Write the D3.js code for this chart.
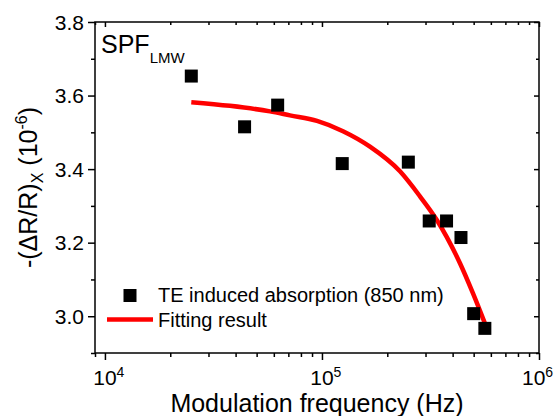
<!DOCTYPE html>
<html>
<head>
<meta charset="utf-8">
<script src="https://cdn.jsdelivr.net/npm/d3@7"></script>
<style>
body { margin: 0; background: #fff; }
text { font-family: "Liberation Sans", Arial, sans-serif; fill: #000; }
</style>
</head>
<body>
<svg width="554" height="416"></svg>
<script>
// measured points (TE induced absorption, 850 nm)
const freq = [25000, 44000, 62500, 124000, 250000, 312000, 375000, 437000, 500000, 563000]
const signal = [3.653, 3.515, 3.574, 3.415, 3.419, 3.259, 3.259, 3.214, 3.007, 2.967]

// fitting result
const fitFreq = [25000, 37700, 57600, 71200, 94900, 125000, 166400, 228800, 282800, 338800, 432400, 496500, 563900]
const fitSignal = [3.582, 3.572, 3.557, 3.546, 3.531, 3.503, 3.461, 3.394, 3.326, 3.261, 3.144, 3.062, 2.980]

const xMajor = [1e4, 1e5, 1e6]
const xExp = ["4", "5", "6"]
const yMajor = [3.0, 3.2, 3.4, 3.6, 3.8]
const yMinor = [2.9, 3.1, 3.3, 3.5, 3.7]

const svg = d3.select("svg")
const pLeft = 95, pRight = 539, pTop = 22, pBottom = 353

const x = d3.scaleLog().domain([9000, 1e6]).range([pLeft, pRight])
const y = d3.scaleLinear().domain([2.9, 3.8]).range([pBottom, pTop])
const xMinor = x.ticks().filter(d => !xMajor.includes(d))

function tickStyle(g){
    g.select(".domain").remove()
    g.selectAll("line").attr("stroke", "#000").attr("stroke-width", 1.5)
}

// bottom
svg.append("g").attr("transform", `translate(0,${pBottom})`)
    .call(d3.axisBottom(x).tickValues(xMinor).tickSize(4).tickFormat(""))
    .call(tickStyle)
svg.append("g").attr("transform", `translate(0,${pBottom})`)
    .call(d3.axisBottom(x).tickValues(xMajor).tickSize(7).tickFormat(""))
    .call(tickStyle)
// top (inward)
svg.append("g").attr("transform", `translate(0,${pTop})`)
    .call(d3.axisTop(x).tickValues(xMinor).tickSize(-3).tickFormat(""))
    .call(tickStyle)
svg.append("g").attr("transform", `translate(0,${pTop})`)
    .call(d3.axisTop(x).tickValues(xMajor).tickSize(-5).tickFormat(""))
    .call(tickStyle)
// left
svg.append("g").attr("transform", `translate(${pLeft},0)`)
    .call(d3.axisLeft(y).tickValues(yMinor).tickSize(4).tickFormat(""))
    .call(tickStyle)
svg.append("g").attr("transform", `translate(${pLeft},0)`)
    .call(d3.axisLeft(y).tickValues(yMajor).tickSize(7).tickFormat(""))
    .call(tickStyle)
// right (inward)
svg.append("g").attr("transform", `translate(${pRight},0)`)
    .call(d3.axisRight(y).tickValues(yMinor).tickSize(-3).tickFormat(""))
    .call(tickStyle)
svg.append("g").attr("transform", `translate(${pRight},0)`)
    .call(d3.axisRight(y).tickValues(yMajor).tickSize(-5).tickFormat(""))
    .call(tickStyle)

svg.append("rect")
    .attr("x", pLeft).attr("y", pTop)
    .attr("width", pRight - pLeft).attr("height", pBottom - pTop)
    .attr("fill", "none").attr("stroke", "#000").attr("stroke-width", 1.5)

// y tick labels
svg.append("g").selectAll("text")
    .data(yMajor)
    .enter()
    .append("text")
    .attr("x", 84)
    .attr("y", d => y(d) + 7.5)
    .attr("text-anchor", "end")
    .style("font-size", "21px")
    .text(d => d.toFixed(1))

// x tick labels 10^n (last one pulled in so it stays on the page)
const xl = svg.append("g").selectAll("text")
    .data(xMajor)
    .enter()
    .append("text")
    .attr("x", d => Math.min(x(d) - 11.7, 553 - 31))
    .attr("y", 385)
    .style("font-size", "21px")
xl.append("tspan").text("10")
xl.append("tspan").attr("dy", -8.5).style("font-size", "14px").text((d, i) => xExp[i])

// axis titles
svg.append("text")
    .attr("x", (pLeft + pRight) / 2)
    .attr("y", 412)
    .attr("text-anchor", "middle")
    .style("font-size", "25px")
    .text("Modulation frequency (Hz)")

const yt = svg.append("text")
    .attr("transform", `translate(37,${(pTop + pBottom) / 2}) rotate(-90)`)
    .attr("text-anchor", "middle")
    .style("font-size", "25px")
yt.append("tspan").text("-(\u0394R/R)")
yt.append("tspan").attr("dy", 6).style("font-size", "16px").text("X")
yt.append("tspan").attr("dy", -6).text(" (10")
yt.append("tspan").attr("dy", -10).style("font-size", "16px").text("-6")
yt.append("tspan").attr("dy", 10).text(")")

// sample label
const lab = svg.append("text").attr("x", 101).attr("y", 53).style("font-size", "25px")
lab.append("tspan").text("SPF")
lab.append("tspan").attr("dy", 10).style("font-size", "15px").text("LMW")

// fit curve
const line = d3.line()
    .x(d => x(d[0]))
    .y(d => y(d[1]))
    .curve(d3.curveMonotoneX)
svg.append("path")
    .attr("d", line(fitFreq.map((f, i) => [f, fitSignal[i]])))
    .attr("fill", "none")
    .attr("stroke", "#ff0000")
    .attr("stroke-width", 4.5)

// data squares
const s = 13
svg.append("g").selectAll("rect")
    .data(freq)
    .enter()
    .append("rect")
    .attr("x", d => x(d) - s / 2)
    .attr("y", (d, i) => y(signal[i]) - s / 2)
    .attr("width", s)
    .attr("height", s)
    .attr("fill", "#000")

// legend
svg.append("rect")
    .attr("x", 130 - s / 2).attr("y", 295.5 - s / 2)
    .attr("width", s).attr("height", s)
    .attr("fill", "#000")
svg.append("text").attr("x", 158).attr("y", 302).style("font-size", "20px")
    .text("TE induced absorption (850 nm)")
svg.append("line")
    .attr("x1", 107).attr("x2", 153)
    .attr("y1", 319.5).attr("y2", 319.5)
    .attr("stroke", "#ff0000").attr("stroke-width", 4.5)
svg.append("text").attr("x", 158).attr("y", 326.5).style("font-size", "20px")
    .text("Fitting result")
</script>
</body>
</html>
